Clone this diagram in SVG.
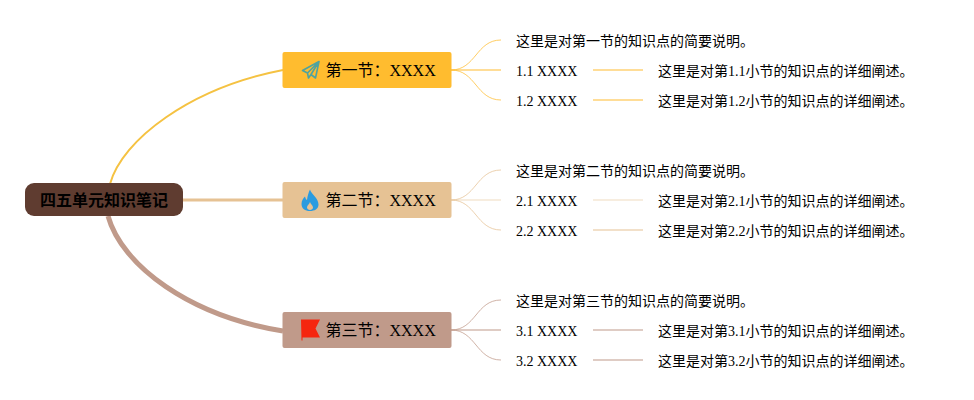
<svg xmlns="http://www.w3.org/2000/svg" width="974" height="400" viewBox="0 0 974 400">
  <style>
    text { font-family: "Liberation Serif", "Noto Sans CJK SC", serif; fill: #000; }
    .root-text { font-size: 16px; font-weight: bold; text-anchor: middle; font-family: "Liberation Sans", "Noto Sans CJK SC", sans-serif; }
    .sec { font-size: 16px; }
    .leaf { font-size: 14px; }
    .c { fill: none; stroke-linecap: butt; }
    .y { stroke: #FFBC2F; } .t { stroke: #E6C294; } .b { stroke: #C09A8A; }
    .thin { stroke-width: 1; opacity: .75; }
    .mid { stroke-width: 2; opacity: .5; }
    .faint { stroke-width: 2; opacity: .3; }
  </style>
  <rect width="974" height="400" fill="#fff"/>
  <g id="connectors">
    <path class="c" stroke="#F5C242" stroke-width="2" d="M110 184C122 140 190 88 283 70"/>
    <path class="c t" stroke-width="3" d="M183 200H283"/>
    <path class="c b" stroke-width="5" d="M108 216C122 266 190 316 283 331"/>

    <path class="c y thin" d="M451 70C476 70 476 40 501 40"/>
    <path class="c y mid" d="M451 70H501"/>
    <path class="c y thin" d="M451 70C476 70 476 100 501 100"/>
    <path class="c y mid" d="M593 70H643"/>
    <path class="c y mid" d="M593 100H643"/>

    <path class="c t thin" d="M451 200C476 200 476 170 501 170"/>
    <path class="c t faint" d="M451 200H501"/>
    <path class="c t thin" d="M451 200C476 200 476 230 501 230"/>
    <path class="c t faint" d="M593 200H643"/>
    <path class="c t mid" d="M593 230H643"/>

    <path class="c b thin" d="M451 330C476 330 476 300 501 300"/>
    <path class="c b mid" d="M451 330H501"/>
    <path class="c b thin" d="M451 330C476 330 476 360 501 360"/>
    <path class="c b mid" d="M593 330H643"/>
    <path class="c b mid" d="M593 360H643"/>
  </g>

  <g id="root">
    <rect x="25" y="183" width="158" height="33" rx="9" fill="#5F3C30"/>
    <text class="root-text" x="104" y="205.500">四五单元知识笔记</text>
  </g>

  <g id="section-1">
    <rect x="282.500" y="52" width="169" height="36" rx="2" fill="#FFBC2F"/>
    <path d="M302.500 70.500L319 61.500L315.500 78L311 74.500L308.500 78L307.500 73ZM307.500 73L319 61.500M311 74.500L319 61.500" fill="none" stroke="#4FA3A0" stroke-width="1.600" stroke-linejoin="round"/>
    <text class="sec" x="325.500" y="76">第一节：XXXX</text>
  </g>
  <g id="section-2">
    <rect x="282.500" y="182" width="169" height="36" rx="2" fill="#E6C294"/>
    <path d="M310 189.500C311 194 318.500 198 318.500 204.500C318.500 209 314.500 211 310 211C305 211 301.500 208.500 301.500 204C301.500 200.500 303.500 198 305 196.500C305.500 198.500 306 199.500 307 200C307.500 196 308.500 192.500 310 189.500ZM310 202C309.500 204.500 307 205 307 207.500C307 209 308.500 210 310 210C311.500 210 313 209 313 207.500C313 205 310.500 204.500 310 202Z" fill="#2A9BE0" fill-rule="evenodd"/>
    <text class="sec" x="325.500" y="206">第二节：XXXX</text>
  </g>
  <g id="section-3">
    <rect x="282.500" y="312" width="169" height="36" rx="2" fill="#C09A8A"/>
    <path d="M301 319.500H320L315.500 328.500L320 337.500H302.500V340.500L301.500 340.500Z" fill="#F5260F"/>
    <text class="sec" x="325.500" y="336">第三节：XXXX</text>
  </g>

  <g id="s1-leaves">
    <text class="leaf" x="516" y="46">这里是对第一节的知识点的简要说明。</text>
    <text class="leaf" x="516" y="76">1.1 XXXX</text>
    <text class="leaf" x="658" y="76">这里是对第1.1小节的知识点的详细阐述。</text>
    <text class="leaf" x="516" y="106">1.2 XXXX</text>
    <text class="leaf" x="658" y="106">这里是对第1.2小节的知识点的详细阐述。</text>
  </g>
  <g id="s2-leaves">
    <text class="leaf" x="516" y="176">这里是对第二节的知识点的简要说明。</text>
    <text class="leaf" x="516" y="206">2.1 XXXX</text>
    <text class="leaf" x="658" y="206">这里是对第2.1小节的知识点的详细阐述。</text>
    <text class="leaf" x="516" y="236">2.2 XXXX</text>
    <text class="leaf" x="658" y="236">这里是对第2.2小节的知识点的详细阐述。</text>
  </g>
  <g id="s3-leaves">
    <text class="leaf" x="516" y="306">这里是对第三节的知识点的简要说明。</text>
    <text class="leaf" x="516" y="336">3.1 XXXX</text>
    <text class="leaf" x="658" y="336">这里是对第3.1小节的知识点的详细阐述。</text>
    <text class="leaf" x="516" y="366">3.2 XXXX</text>
    <text class="leaf" x="658" y="366">这里是对第3.2小节的知识点的详细阐述。</text>
  </g>
</svg>
